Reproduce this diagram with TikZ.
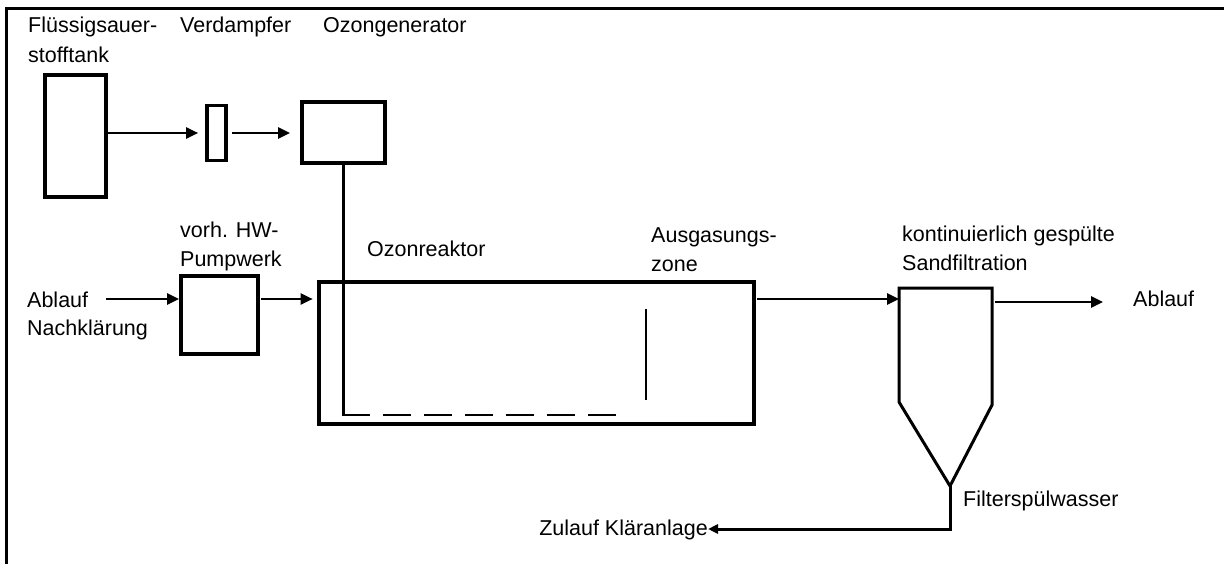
\documentclass[tikz,border=0pt]{standalone}
\usepackage{fontspec}
\setmainfont{Liberation Sans}
\usetikzlibrary{arrows.meta,calc}
\begin{document}
\begin{tikzpicture}[x=1pt,y=-1pt,
  lbl/.style={font=\fontsize{21.5}{29.5}\selectfont, inner sep=0pt, anchor=base west},
  unit/.style={draw, line width=4pt, inner sep=0pt},
  flow/.style={line width=2.5pt, -{Triangle[length=12pt,width=11pt]}},
  pipe/.style={line width=2.4pt}]
\useasboundingbox (0,0) rectangle (1224,564);
% open frame (top and left edges)
\draw[line width=3pt] (6.5,564) -- (6.5,9) -- (1224,9);

% labels
\node[lbl] (t1a) at (28,33) {Flüssigsauer-};
\node[lbl] (t1b) at (28,63) {stofftank};
\node[lbl] (t2)  at (180,33) {Verdampfer};
\node[lbl] (t3)  at (323,33) {Ozongenerator};
\node[lbl] (t4a) at (180,238) {vorh. HW-};
\node[lbl] (t4b) at (180,267) {Pumpwerk};
\node[lbl] (abl) at (27,307) {Ablauf};
\node[lbl] (nkl) at (27,335) {Nachklärung};
\node[lbl] (t5)  at (367,257) {Ozonreaktor};
\node[lbl] (t6a) at (651,243) {Ausgasungs-};
\node[lbl] (t6b) at (651,272) {zone};
\node[lbl] (t7a) at (902,242) {kontinuierlich gespülte};
\node[lbl] (t7b) at (902,271) {Sandfiltration};
\node[lbl] (ablr) at (1133,306) {Ablauf};
\node[lbl] (fsw) at (963,506) {Filterspülwasser};
\node[lbl, anchor=base east] (zul) at (708,535) {Zulauf Kläranlage};

% units
\node[unit, minimum width=61pt, minimum height=122pt] (tank) at (75.5,136) {};
\node[unit, line width=3.6pt, minimum width=19pt, minimum height=55pt] (verd) at (216.5,133) {};
\node[unit, minimum width=83pt, minimum height=61pt] (ozgen) at (343.5,132.5) {};
\node[unit, minimum width=77pt, minimum height=78pt] (pump) at (219.5,315) {};
\node[unit, line width=4.6pt, minimum width=435pt, minimum height=142pt] (reactor) at (536.5,353) {};

% sand filter
\coordinate (ftl) at (899,288);
\coordinate (ftr) at (992,288);
\coordinate (fcl) at (899,402);
\coordinate (fcr) at (992,405);
\coordinate (apex) at (950,486);
\draw[line width=3pt] (ftl) -- (ftr) -- (fcr) -- (apex) -- (fcl) -- cycle;

% oxygen / ozone gas line
\draw[flow, shorten >=7pt] (tank.east |- verd.west) -- (verd.west);
\draw[flow, shorten <=4pt, shorten >=10pt] (verd.east) -- (verd.east -| ozgen.west);
\coordinate (diff) at (343.5,415);
\coordinate (diffend) at (617,415);
\draw[pipe] (ozgen.south) -- ($(diff)+(0,1.2)$);
\draw[pipe, dash pattern=on 28pt off 13pt] ($(diff)+(-1.2,0)$) -- (diffend);

% baffle
\coordinate (baftop) at (646,309);
\coordinate (bafbot) at (646,400);
\draw[pipe] (baftop) -- (bafbot);

% water path
\coordinate (inflow) at (106,299);
\draw[flow] (inflow) -- (inflow -| pump.west);
\draw[flow, shorten <=1pt, shorten >=4pt] (pump.east |- inflow) -- (reactor.west |- inflow);
\coordinate (rout) at (757,299);
\draw[flow] (rout) -- (rout -| ftl);
\coordinate (fout) at (995,302);
\draw[flow, shorten >=30pt] (fout) -- (fout -| ablr.west);

% filter backwash return
\coordinate (ret) at (950,529);
\draw[line width=3pt, -{Triangle[length=10pt,width=9pt]}] (apex) -- (ret) -- (ret -| zul.east);
\end{tikzpicture}
\end{document}
